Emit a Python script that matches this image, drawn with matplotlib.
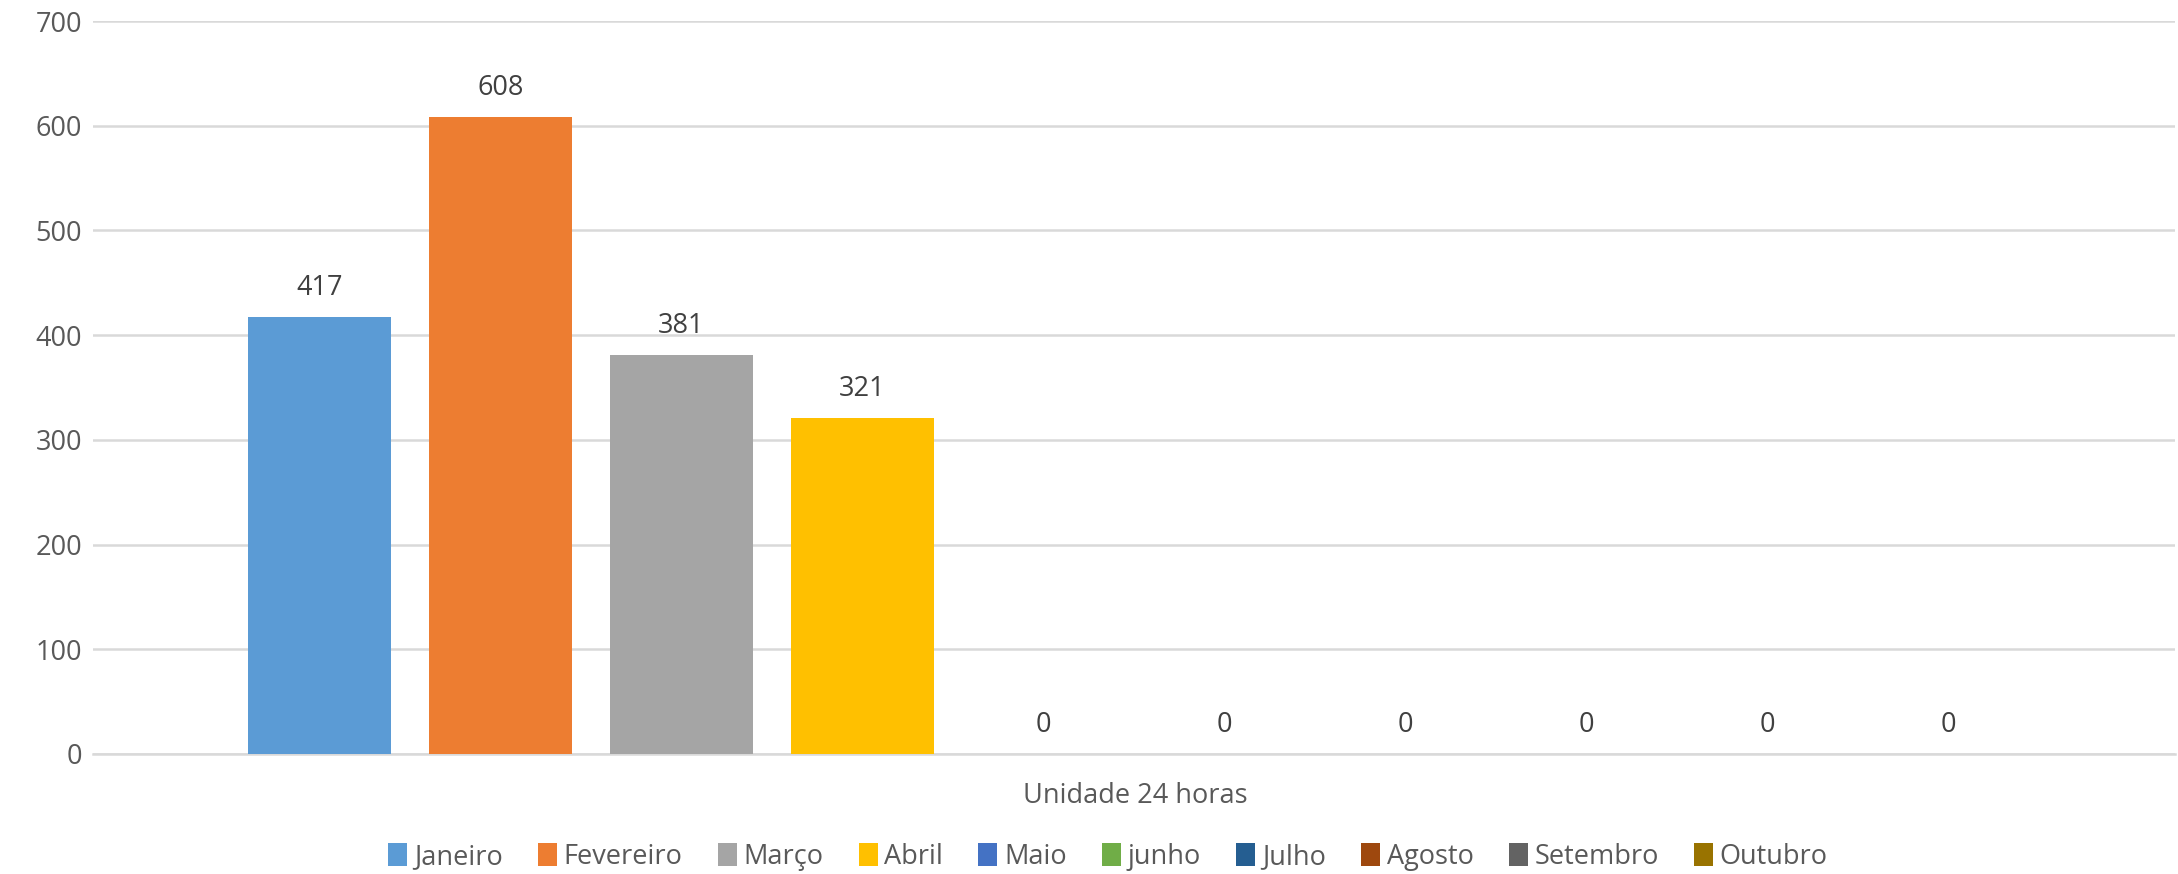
import numpy as np
import matplotlib.pyplot as plt

# dados
meses = ['Janeiro', 'Fevereiro', 'Março', 'Abril', 'Maio', 'junho',
         'Julho', 'Agosto', 'Setembro', 'Outubro']
valores = [417, 608, 381, 321, 0, 0, 0, 0, 0, 0]
cores = ['#5B9BD5', '#ED7D31', '#A5A5A5', '#FFC000', '#4472C4', '#70AD47',
         '#255E91', '#9E480E', '#636363', '#997300']
categoria = 'Unidade 24 horas'
y_ticks = [0, 100, 200, 300, 400, 500, 600, 700]

plt.rcParams['font.family'] = ['Open Sans', 'DejaVu Sans']
fs = 19.5

fig = plt.figure(figsize=(21.78, 8.74), dpi=100)
ax = fig.add_axes([93 / 2178, 120 / 874, 2082 / 2178, 733 / 874])

x = np.arange(len(meses))
for i, (m, v, c) in enumerate(zip(meses, valores, cores)):
    ax.bar(x[i], v, width=0.79, color=c, label=m, zorder=3)
    ax.annotate(str(v), (x[i], v), xytext=(0, 21), textcoords='offset points',
                ha='center', va='center', fontsize=fs, color='#404040')

ax.set_xlim(-1.25, 10.25)
ax.set_ylim(0, 700)
ax.set_yticks(y_ticks)
ax.set_xticks([])
ax.tick_params(axis='y', length=0, labelsize=fs, labelcolor='#595959', pad=8)
ax.grid(axis='y', color='#D9D9D9', linewidth=1.8, zorder=0)
for s in ['top', 'right', 'left']:
    ax.spines[s].set_visible(False)
ax.spines['bottom'].set_color('#D9D9D9')
ax.spines['bottom'].set_linewidth(1.8)

fig.text(1135 / 2178, 1 - 796 / 874, categoria, ha='center', va='center',
         fontsize=fs, color='#595959')

fig.legend(loc='center', bbox_to_anchor=(1108 / 2178, 1 - 857 / 874), ncol=10,
           frameon=False, fontsize=fs, labelcolor='#595959',
           handlelength=0.7, handleheight=0.9, handletextpad=0.25,
           columnspacing=1.3)

fig.savefig('out.png', dpi=100)
